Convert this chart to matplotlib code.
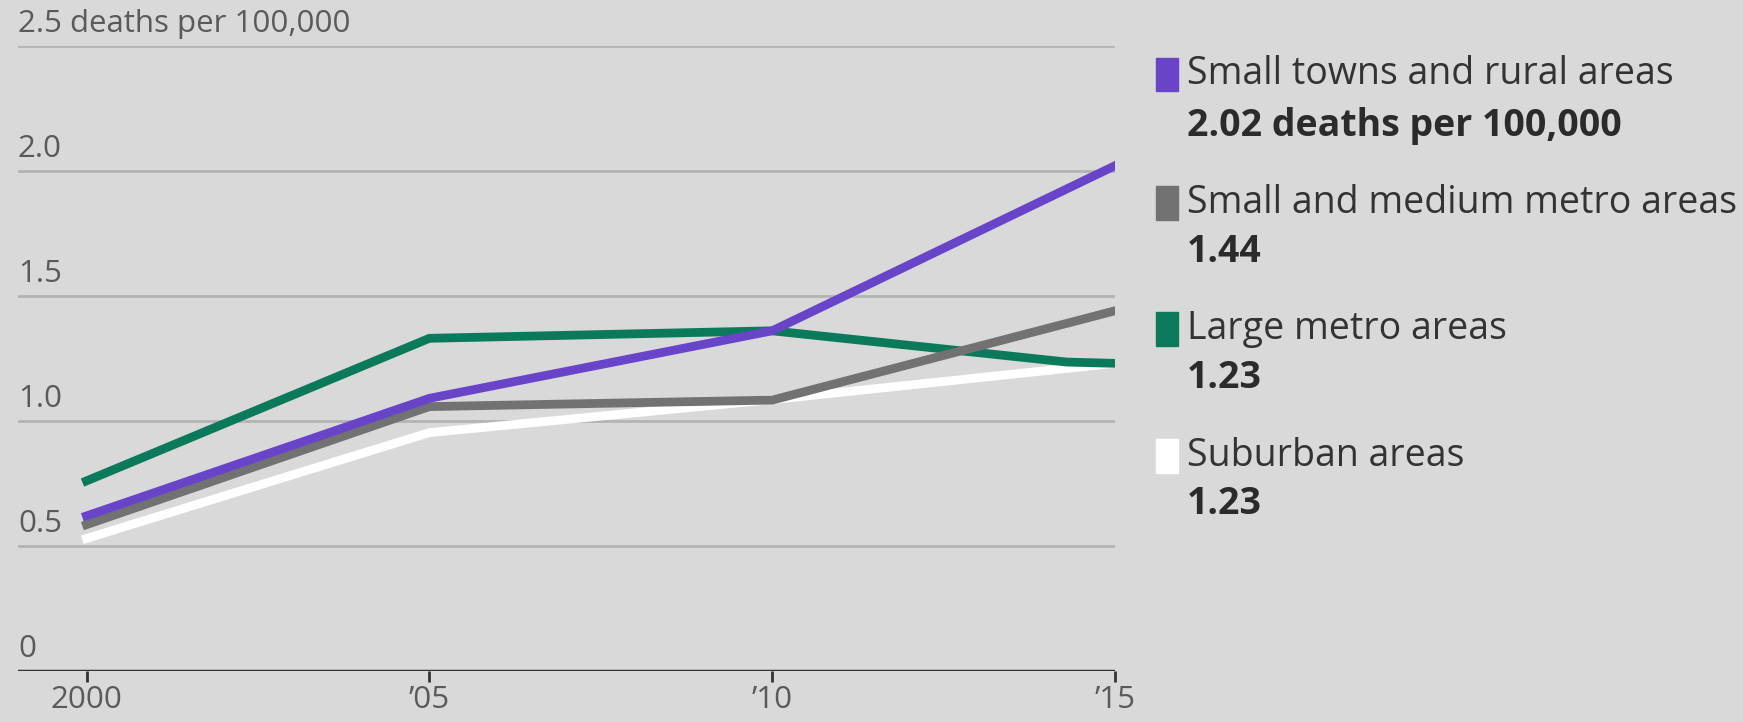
import matplotlib.pyplot as plt
from matplotlib.patches import Rectangle

# data
years_purple = [2000, 2005, 2010, 2015]
rural = [0.62, 1.09, 1.36, 2.02]

years_gray = [2000, 2005, 2010, 2015]
small_metro = [0.585, 1.057, 1.083, 1.44]

years_green = [2000, 2005, 2010, 2014.3, 2015]
large_metro = [0.76, 1.33, 1.36, 1.235, 1.23]

years_white = [2000, 2005, 2010, 2015]
suburban = [0.53, 0.953, 1.085, 1.23]

legend_names = ["Small towns and rural areas", "Small and medium metro areas",
                "Large metro areas", "Suburban areas"]
legend_values = ["2.02 deaths per 100,000", "1.44", "1.23", "1.23"]
colors = ["#6844c9", "#727272", "#0a7a5b", "#ffffff"]

y_ticks = [0, 0.5, 1.0, 1.5, 2.0, 2.5]
y_labels = ["0", "0.5", "1.0", "1.5", "2.0", "2.5 deaths per 100,000"]
x_ticks = [2000, 2005, 2010, 2015]
x_labels = ["2000", "\u201905", "\u201910", "\u201915"]

plt.rcParams['font.family'] = ['Open Sans', 'DejaVu Sans']
bg = "#d9d9d9"

fig = plt.figure(figsize=(17.43, 7.22), dpi=100, facecolor=bg)
ax = fig.add_axes([0.0103, 0.0706, 0.6294, 0.8662], facecolor=bg)

# gridlines + labels sitting on top of them
for v, lab in zip(y_ticks, y_labels):
    if v > 0:
        ax.axhline(v, color="#b3b3b3", lw=2, zorder=1)
    ax.annotate(lab, xy=(0, v), xycoords=("axes fraction", "data"),
                xytext=(0, 5), textcoords="offset points",
                ha="left", va="bottom", fontsize=22.5, color="#5a5a5a")
ax.axhline(0, color="#333333", lw=2.5, zorder=3)

lw = 6.3
ax.plot(years_white, suburban, color=colors[3], lw=lw, zorder=4, solid_joinstyle="miter")
ax.plot(years_green, large_metro, color=colors[2], lw=lw, zorder=5, solid_joinstyle="miter")
ax.plot(years_gray, small_metro, color=colors[1], lw=lw, zorder=6, solid_joinstyle="miter")
ax.plot(years_purple, rural, color=colors[0], lw=lw, zorder=7, solid_joinstyle="miter")

ax.set_xlim(1999.0, 2015)
ax.set_ylim(0, 2.5)
ax.set_yticks([])
ax.set_xticks(x_ticks)
ax.set_xticklabels(x_labels, fontsize=22.5, color="#5a5a5a")
ax.tick_params(axis="x", length=8, width=2, color="#333333", pad=2)
for s in ax.spines.values():
    s.set_visible(False)

# legend on the right
title_y = [74.5, 203, 329, 456]
value_y = [125.6, 252, 378, 503.6]
for i in range(4):
    yc = 1 - title_y[i] / 722
    fig.patches.append(Rectangle((0.6635, yc - 0.023), 0.0125, 0.046,
                                 transform=fig.transFigure, color=colors[i]))
    fig.text(0.681, yc, legend_names[i], fontsize=27, color="#333333", va="center", ha="left")
    fig.text(0.681, 1 - value_y[i] / 722, legend_values[i], fontsize=27,
             fontweight="bold", color="#2b2b2b", va="center", ha="left")

fig.savefig("out.png", dpi=100, facecolor=bg)
